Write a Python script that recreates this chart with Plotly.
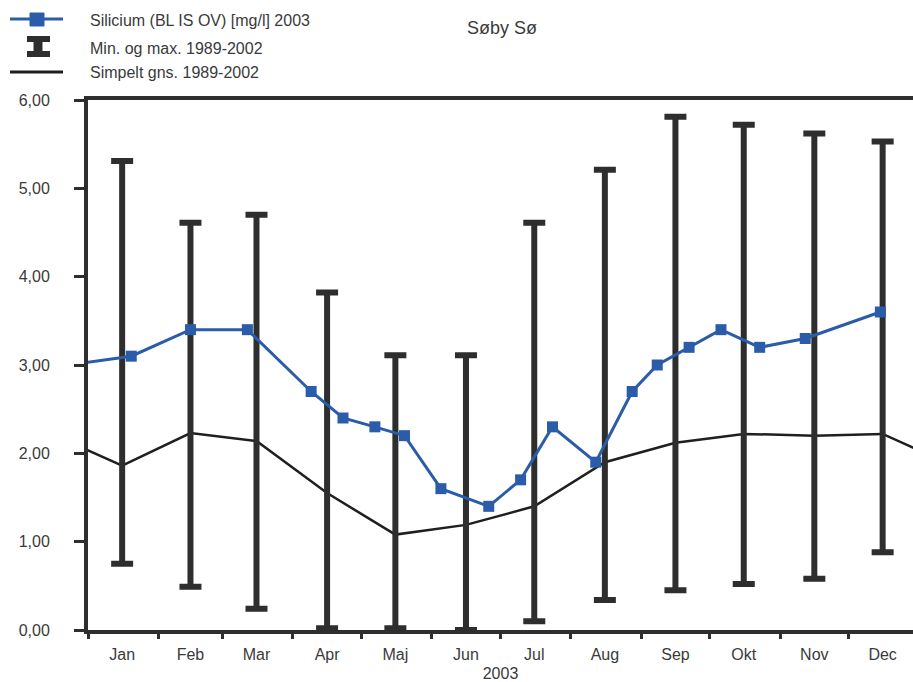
import plotly.graph_objects as go

# --- data -----------------------------------------------------------------
months = ["Jan", "Feb", "Mar", "Apr", "Maj", "Jun", "Jul", "Aug", "Sep", "Okt", "Nov", "Dec"]
month_mid = ["2003-01-16", "2003-02-15", "2003-03-16", "2003-04-16", "2003-05-16", "2003-06-16",
             "2003-07-16", "2003-08-16", "2003-09-16", "2003-10-16", "2003-11-16", "2003-12-16"]
month_start = ["2003-01-01", "2003-02-01", "2003-03-01", "2003-04-01", "2003-05-01", "2003-06-01",
               "2003-07-01", "2003-08-01", "2003-09-01", "2003-10-01", "2003-11-01", "2003-12-01"]

min_1989_2002 = [0.75, 0.49, 0.24, 0.02, 0.02, 0.00, 0.10, 0.34, 0.45, 0.52, 0.58, 0.88]
max_1989_2002 = [5.31, 4.61, 4.70, 3.82, 3.11, 3.11, 4.61, 5.21, 5.81, 5.72, 5.62, 5.53]
mean_1989_2002 = [1.86, 2.23, 2.14, 1.55, 1.08, 1.19, 1.40, 1.90, 2.12, 2.22, 2.20, 2.22]

si_dates = ["2002-12-10", "2003-01-20", "2003-02-15", "2003-03-12", "2003-04-09", "2003-04-23",
            "2003-05-07", "2003-05-20", "2003-06-05", "2003-06-26", "2003-07-10", "2003-07-24",
            "2003-08-12", "2003-08-28", "2003-09-08", "2003-09-22", "2003-10-06", "2003-10-23",
            "2003-11-12", "2003-12-15"]
si_values = [2.95, 3.1, 3.4, 3.4, 2.7, 2.4, 2.3, 2.2, 1.6, 1.4, 1.7, 2.3, 1.9, 2.7, 3.0, 3.2, 3.4,
             3.2, 3.3, 3.6]

# --- styling --------------------------------------------------------------
W, H = 913, 682
L, R, T, B = 88, 0, 100, 52
BLUE = "#2a5caa"
DARK = "#2e2e2e"
TEXT = "#3a3a3a"
FONT = "Arial, Liberation Sans, sans-serif"


def px_x(px):
    return (px - L) / (W - L - R)


def px_y(py):
    return (H - B - py) / (H - T - B)


# climatological mean wraps around the year so the line runs to both edges
mean_dates = ["2002-12-16"] + month_mid + ["2004-01-16"]
mean_vals = [mean_1989_2002[-1]] + mean_1989_2002 + [mean_1989_2002[0]]

fig = go.Figure()

fig.add_trace(go.Scatter(
    x=mean_dates, y=mean_vals, mode="lines",
    line=dict(color="#1f1f1f", width=2.5),
    name="Simpelt gns. 1989-2002", showlegend=False,
))

fig.add_trace(go.Scatter(
    x=month_mid, y=min_1989_2002, mode="markers",
    marker=dict(size=1, opacity=0),
    error_y=dict(type="data", symmetric=False,
                 array=[hi - lo for hi, lo in zip(max_1989_2002, min_1989_2002)],
                 arrayminus=[0] * len(min_1989_2002),
                 thickness=6, width=11, color=DARK),
    cliponaxis=False,
    name="Min. og max. 1989-2002", showlegend=False,
))

fig.add_trace(go.Scatter(
    x=si_dates, y=si_values, mode="lines+markers",
    line=dict(color=BLUE, width=3),
    marker=dict(symbol="square", size=11, color=BLUE),
    name="Silicium (BL IS OV) [mg/l] 2003", showlegend=False,
))

# --- hand-built legend ----------------------------------------------------
shapes = []
# blue line with square marker
shapes.append(dict(type="line", xref="paper", yref="paper",
                   x0=px_x(10), x1=px_x(63), y0=px_y(19), y1=px_y(19),
                   line=dict(color=BLUE, width=3)))
shapes.append(dict(type="rect", xref="paper", yref="paper",
                   x0=px_x(30), x1=px_x(44), y0=px_y(13), y1=px_y(26),
                   fillcolor=BLUE, line=dict(color=BLUE, width=1)))
# I-beam for min/max
shapes.append(dict(type="line", xref="paper", yref="paper",
                   x0=px_x(38), x1=px_x(38), y0=px_y(39), y1=px_y(54),
                   line=dict(color=DARK, width=9)))
shapes.append(dict(type="line", xref="paper", yref="paper",
                   x0=px_x(27), x1=px_x(50), y0=px_y(39), y1=px_y(39),
                   line=dict(color=DARK, width=6)))
shapes.append(dict(type="line", xref="paper", yref="paper",
                   x0=px_x(27), x1=px_x(50), y0=px_y(54), y1=px_y(54),
                   line=dict(color=DARK, width=6)))
# black mean line
shapes.append(dict(type="line", xref="paper", yref="paper",
                   x0=px_x(10), x1=px_x(63), y0=px_y(72), y1=px_y(72),
                   line=dict(color="#1f1f1f", width=3)))

legend_texts = ["Silicium (BL IS OV) [mg/l] 2003", "Min. og max. 1989-2002", "Simpelt gns. 1989-2002"]
legend_rows = [21, 48, 73]
annotations = [
    dict(text=t, xref="paper", yref="paper", x=px_x(88), y=px_y(yy),
         xanchor="left", yanchor="middle", showarrow=False,
         font=dict(family=FONT, size=16, color=TEXT))
    for t, yy in zip(legend_texts, legend_rows)
]

fig.update_layout(
    width=W, height=H,
    margin=dict(l=L, r=R, t=T, b=B),
    paper_bgcolor="white", plot_bgcolor="white",
    separators=",.",
    font=dict(family=FONT, size=16, color=TEXT),
    title=dict(text="Søby Sø", x=px_x(502), xref="paper", xanchor="center",
               y=1 - 28 / H, yref="container", yanchor="middle",
               font=dict(family=FONT, size=18, color=TEXT)),
    shapes=shapes,
    annotations=annotations,
    showlegend=False,
)

fig.update_xaxes(
    type="date",
    range=["2003-01-01", "2003-12-29 08:00"],
    showline=True, linewidth=4, linecolor=DARK, mirror=True,
    showgrid=False, zeroline=False,
    tickmode="array", tickvals=month_mid, ticktext=months,
    ticks="", ticklabelstandoff=7,
    minor=dict(tickmode="array", tickvals=month_start, ticks="outside",
               ticklen=5, tickwidth=3, tickcolor=DARK, showgrid=False),
    title=dict(text="2003", standoff=9, font=dict(family=FONT, size=16, color=TEXT)),
    tickfont=dict(family=FONT, size=16, color=TEXT),
)

fig.update_yaxes(
    range=[0, 6], dtick=1, tickformat=".2f",
    showline=True, linewidth=4, linecolor=DARK,
    showgrid=False, zeroline=False,
    ticks="outside", ticklen=10, tickwidth=3, tickcolor=DARK,
    ticklabelstandoff=21,
    tickfont=dict(family=FONT, size=16, color=TEXT),
)

fig.write_html("out.html")
